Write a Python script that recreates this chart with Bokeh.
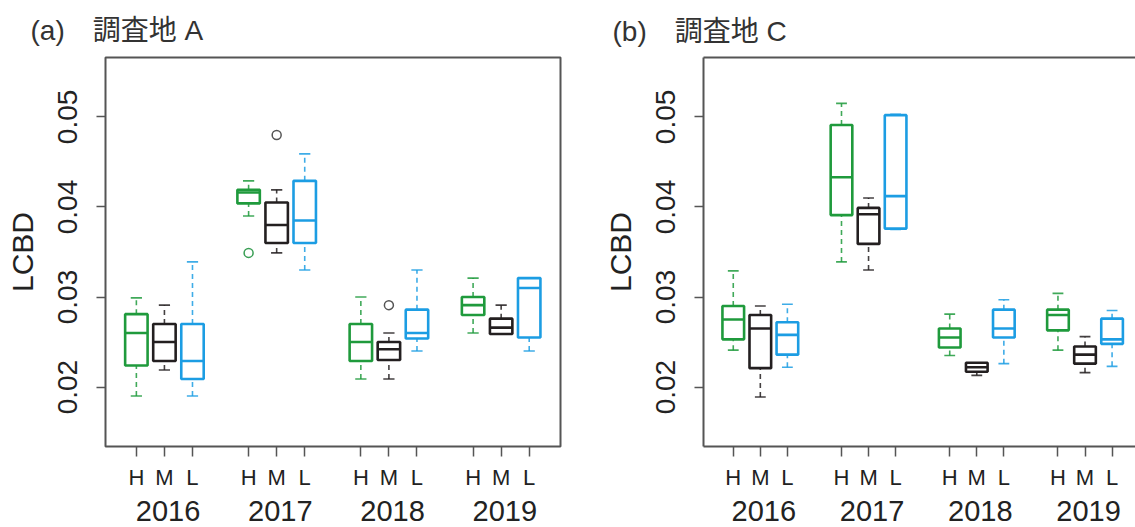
from bokeh.plotting import figure
from bokeh.models import Range1d, LinearAxis, FixedTicker, Title, ColumnDataSource
from bokeh.layouts import row
from bokeh.embed import file_html
from bokeh.resources import INLINE

# ---------------- data ----------------
years = ["2016", "2017", "2018", "2019"]
levels = ["H", "M", "L"]
y_ticks = [0.02, 0.03, 0.04, 0.05]
y_tick_labels = ["0.02", "0.03", "0.04", "0.05"]
y_limits = [0.015, 0.055]

# box order: 2016 H, M, L, 2017 H, M, L, 2018 H, M, L, 2019 H, M, L
# (a) site A
a_low = [0.0190, 0.0219, 0.0190, 0.0390, 0.0349, 0.0330,
         0.0209, 0.0209, 0.0240, 0.0260, 0.0259, 0.0240]
a_q1 = [0.0224, 0.0229, 0.0209, 0.0404, 0.0360, 0.0360,
        0.0229, 0.0230, 0.0254, 0.0280, 0.0259, 0.0255]
a_med = [0.0260, 0.0250, 0.0229, 0.0416, 0.0380, 0.0385,
         0.0250, 0.0242, 0.0260, 0.0291, 0.0266, 0.0310]
a_q3 = [0.0281, 0.0270, 0.0270, 0.0419, 0.0405, 0.0429,
        0.0270, 0.0250, 0.0286, 0.0300, 0.0276, 0.0321]
a_high = [0.0299, 0.0291, 0.0339, 0.0429, 0.0419, 0.0459,
          0.0300, 0.0260, 0.0330, 0.0321, 0.0291, 0.0321]
a_out_box = [3, 4, 7]
a_out_val = [0.0349, 0.0480, 0.0291]

# (b) site C
b_low = [0.0241, 0.0189, 0.0222, 0.0339, 0.0330, 0.0375,
         0.0235, 0.0213, 0.0226, 0.0241, 0.0216, 0.0223]
b_q1 = [0.0253, 0.0221, 0.0236, 0.0391, 0.0359, 0.0376,
        0.0244, 0.0217, 0.0255, 0.0263, 0.0226, 0.0248]
b_med = [0.0275, 0.0265, 0.0258, 0.0433, 0.0392, 0.0412,
         0.0255, 0.0222, 0.0265, 0.0280, 0.0236, 0.0253]
b_q3 = [0.0290, 0.0280, 0.0272, 0.0491, 0.0399, 0.0502,
        0.0265, 0.0227, 0.0286, 0.0286, 0.0245, 0.0276]
b_high = [0.0329, 0.0290, 0.0292, 0.0515, 0.0410, 0.0503,
          0.0281, 0.0227, 0.0297, 0.0304, 0.0256, 0.0285]
b_out_box = []
b_out_val = []

titles = ["(a)\u3000調査地 A", "(b)\u3000調査地 C"]

# ---------------- style ----------------
FONT = "Liberation Sans"
TITLE_FONT = "'Liberation Sans', 'Noto Sans CJK JP'"
LEVEL_COLORS = {"H": "#1f9a3c", "M": "#231f20", "L": "#1c9de3"}
OUTLIER_COLORS = {"H": "#3a9f55", "M": "#555555", "L": "#1c9de3"}
FRAME = "#555555"
TEXT = "#222222"
GROUP_STEP = 4
BOX_HALF = 0.4
CAP_HALF = 0.2
YEAR_SHIFT = 0.13
H = 527
FRAME_H = 390
PX_PER_UNIT = 28.06

positions = [1 + GROUP_STEP * g + k for g in range(len(years)) for k in range(len(levels))]
box_levels = [levels[k] for g in range(len(years)) for k in range(len(levels))]
year_pos = [2 + GROUP_STEP * g + YEAR_SHIFT for g in range(len(years))]

pad = (y_limits[1] - y_limits[0]) * 0.04
y_lo, y_hi = y_limits[0] - pad, y_limits[1] + pad


def make_panel(title, low, q1, med, q3, high, out_box, out_val,
               width, frame_w, b_left, b_top, full_frame, t_offset, t_standoff):
    x_end = -0.1 + frame_w / PX_PER_UNIT
    p = figure(width=width, height=H,
               x_range=Range1d(-0.1, x_end), y_range=Range1d(y_lo, y_hi),
               x_axis_type=None, y_axis_type=None, title_location=None,
               toolbar_location=None, output_backend="svg",
               min_border_left=b_left, min_border_right=width - b_left - frame_w,
               min_border_top=b_top, min_border_bottom=H - b_top - FRAME_H)
    p.background_fill_color = "white"
    p.border_fill_color = "white"
    if full_frame:
        p.outline_line_color = FRAME
        p.outline_line_width = 2
        p.outline_line_alpha = 1
    else:
        p.outline_line_color = None

    colors = [LEVEL_COLORS[l] for l in box_levels]
    src = ColumnDataSource(dict(
        x=positions,
        left=[x - BOX_HALF for x in positions],
        right=[x + BOX_HALF for x in positions],
        cl=[x - CAP_HALF for x in positions],
        cr=[x + CAP_HALF for x in positions],
        low=low, q1=q1, med=med, q3=q3, high=high, color=colors))

    # whiskers
    p.segment(x0="x", y0="q3", x1="x", y1="high", source=src, line_color="color",
              line_width=1.6, line_dash="5 4", line_alpha=0.85)
    p.segment(x0="x", y0="low", x1="x", y1="q1", source=src, line_color="color",
              line_width=1.6, line_dash="5 4", line_alpha=0.85)
    # staples
    p.segment(x0="cl", y0="high", x1="cr", y1="high", source=src,
              line_color="color", line_width=1.6, line_alpha=0.85)
    p.segment(x0="cl", y0="low", x1="cr", y1="low", source=src,
              line_color="color", line_width=1.6, line_alpha=0.85)
    # boxes
    p.quad(left="left", right="right", bottom="q1", top="q3", source=src,
           fill_color=None, line_color="color", line_width=2.6)
    p.segment(x0="left", y0="med", x1="right", y1="med", source=src,
              line_color="color", line_width=2.6)
    # outliers
    if out_box:
        p.scatter(x=[positions[i] for i in out_box], y=out_val, marker="circle",
                  size=9, fill_color=None, line_width=1.5,
                  line_color=[OUTLIER_COLORS[box_levels[i]] for i in out_box])

    # y axis
    yax = LinearAxis(ticker=FixedTicker(ticks=y_ticks),
                     major_label_overrides=dict(zip(y_ticks, y_tick_labels)),
                     axis_label="LCBD", axis_label_text_font=FONT,
                     axis_label_text_font_size="30px",
                     axis_label_text_font_style="normal",
                     axis_label_text_color=TEXT, axis_label_standoff=17,
                     major_label_text_font=FONT, major_label_text_font_size="28px",
                     major_label_text_color=TEXT, major_label_orientation="vertical",
                     major_label_standoff=19, major_tick_out=9, major_tick_in=0,
                     minor_tick_out=0, minor_tick_in=0,
                     major_tick_line_color=FRAME, major_tick_line_width=1.5,
                     axis_line_color=None if full_frame else FRAME, axis_line_width=2)
    p.add_layout(yax, "left")

    # x axis with H M L
    xax = LinearAxis(ticker=FixedTicker(ticks=positions),
                     major_label_overrides={x: l for x, l in zip(positions, box_levels)},
                     major_label_text_font=FONT, major_label_text_font_size="22px",
                     major_label_text_color=TEXT, major_label_standoff=8,
                     major_tick_out=10, major_tick_in=0,
                     minor_tick_out=0, minor_tick_in=0,
                     major_tick_line_color=FRAME, major_tick_line_width=1.5,
                     axis_line_color=None if full_frame else FRAME, axis_line_width=2)
    p.add_layout(xax, "below")

    # second axis row: years
    yrax = LinearAxis(ticker=FixedTicker(ticks=year_pos),
                      major_label_overrides={x: y for x, y in zip(year_pos, years)},
                      major_label_text_font=FONT, major_label_text_font_size="29px",
                      major_label_text_color=TEXT, major_label_standoff=8,
                      major_tick_out=0, major_tick_in=0,
                      minor_tick_out=0, minor_tick_in=0,
                      major_tick_line_color=None, axis_line_color=None)
    p.add_layout(yrax, "below")

    if not full_frame:
        top = LinearAxis(ticker=FixedTicker(ticks=[]), major_tick_out=0,
                         major_tick_in=0, minor_tick_out=0, minor_tick_in=0,
                         major_label_text_font_size="0px", major_label_standoff=0,
                         axis_line_color=FRAME, axis_line_width=2)
        p.add_layout(top, "above")

    p.add_layout(Title(text=title, text_font=TITLE_FONT, text_font_size="28px",
                       text_font_style="normal", text_color="#333333",
                       align="left", vertical_align="top",
                       offset=t_offset, standoff=t_standoff), "above")
    return p


pa = make_panel(titles[0], a_low, a_q1, a_med, a_q3, a_high, a_out_box, a_out_val,
                width=600, frame_w=455, b_left=105, b_top=56,
                full_frame=True, t_offset=-75, t_standoff=19)
pb = make_panel(titles[1], b_low, b_q1, b_med, b_q3, b_high, b_out_box, b_out_val,
                width=535, frame_w=448, b_left=87, b_top=57,
                full_frame=False, t_offset=-91, t_standoff=18)

layout = row(pa, pb)
open("out.html", "w").write(file_html(layout, INLINE))
